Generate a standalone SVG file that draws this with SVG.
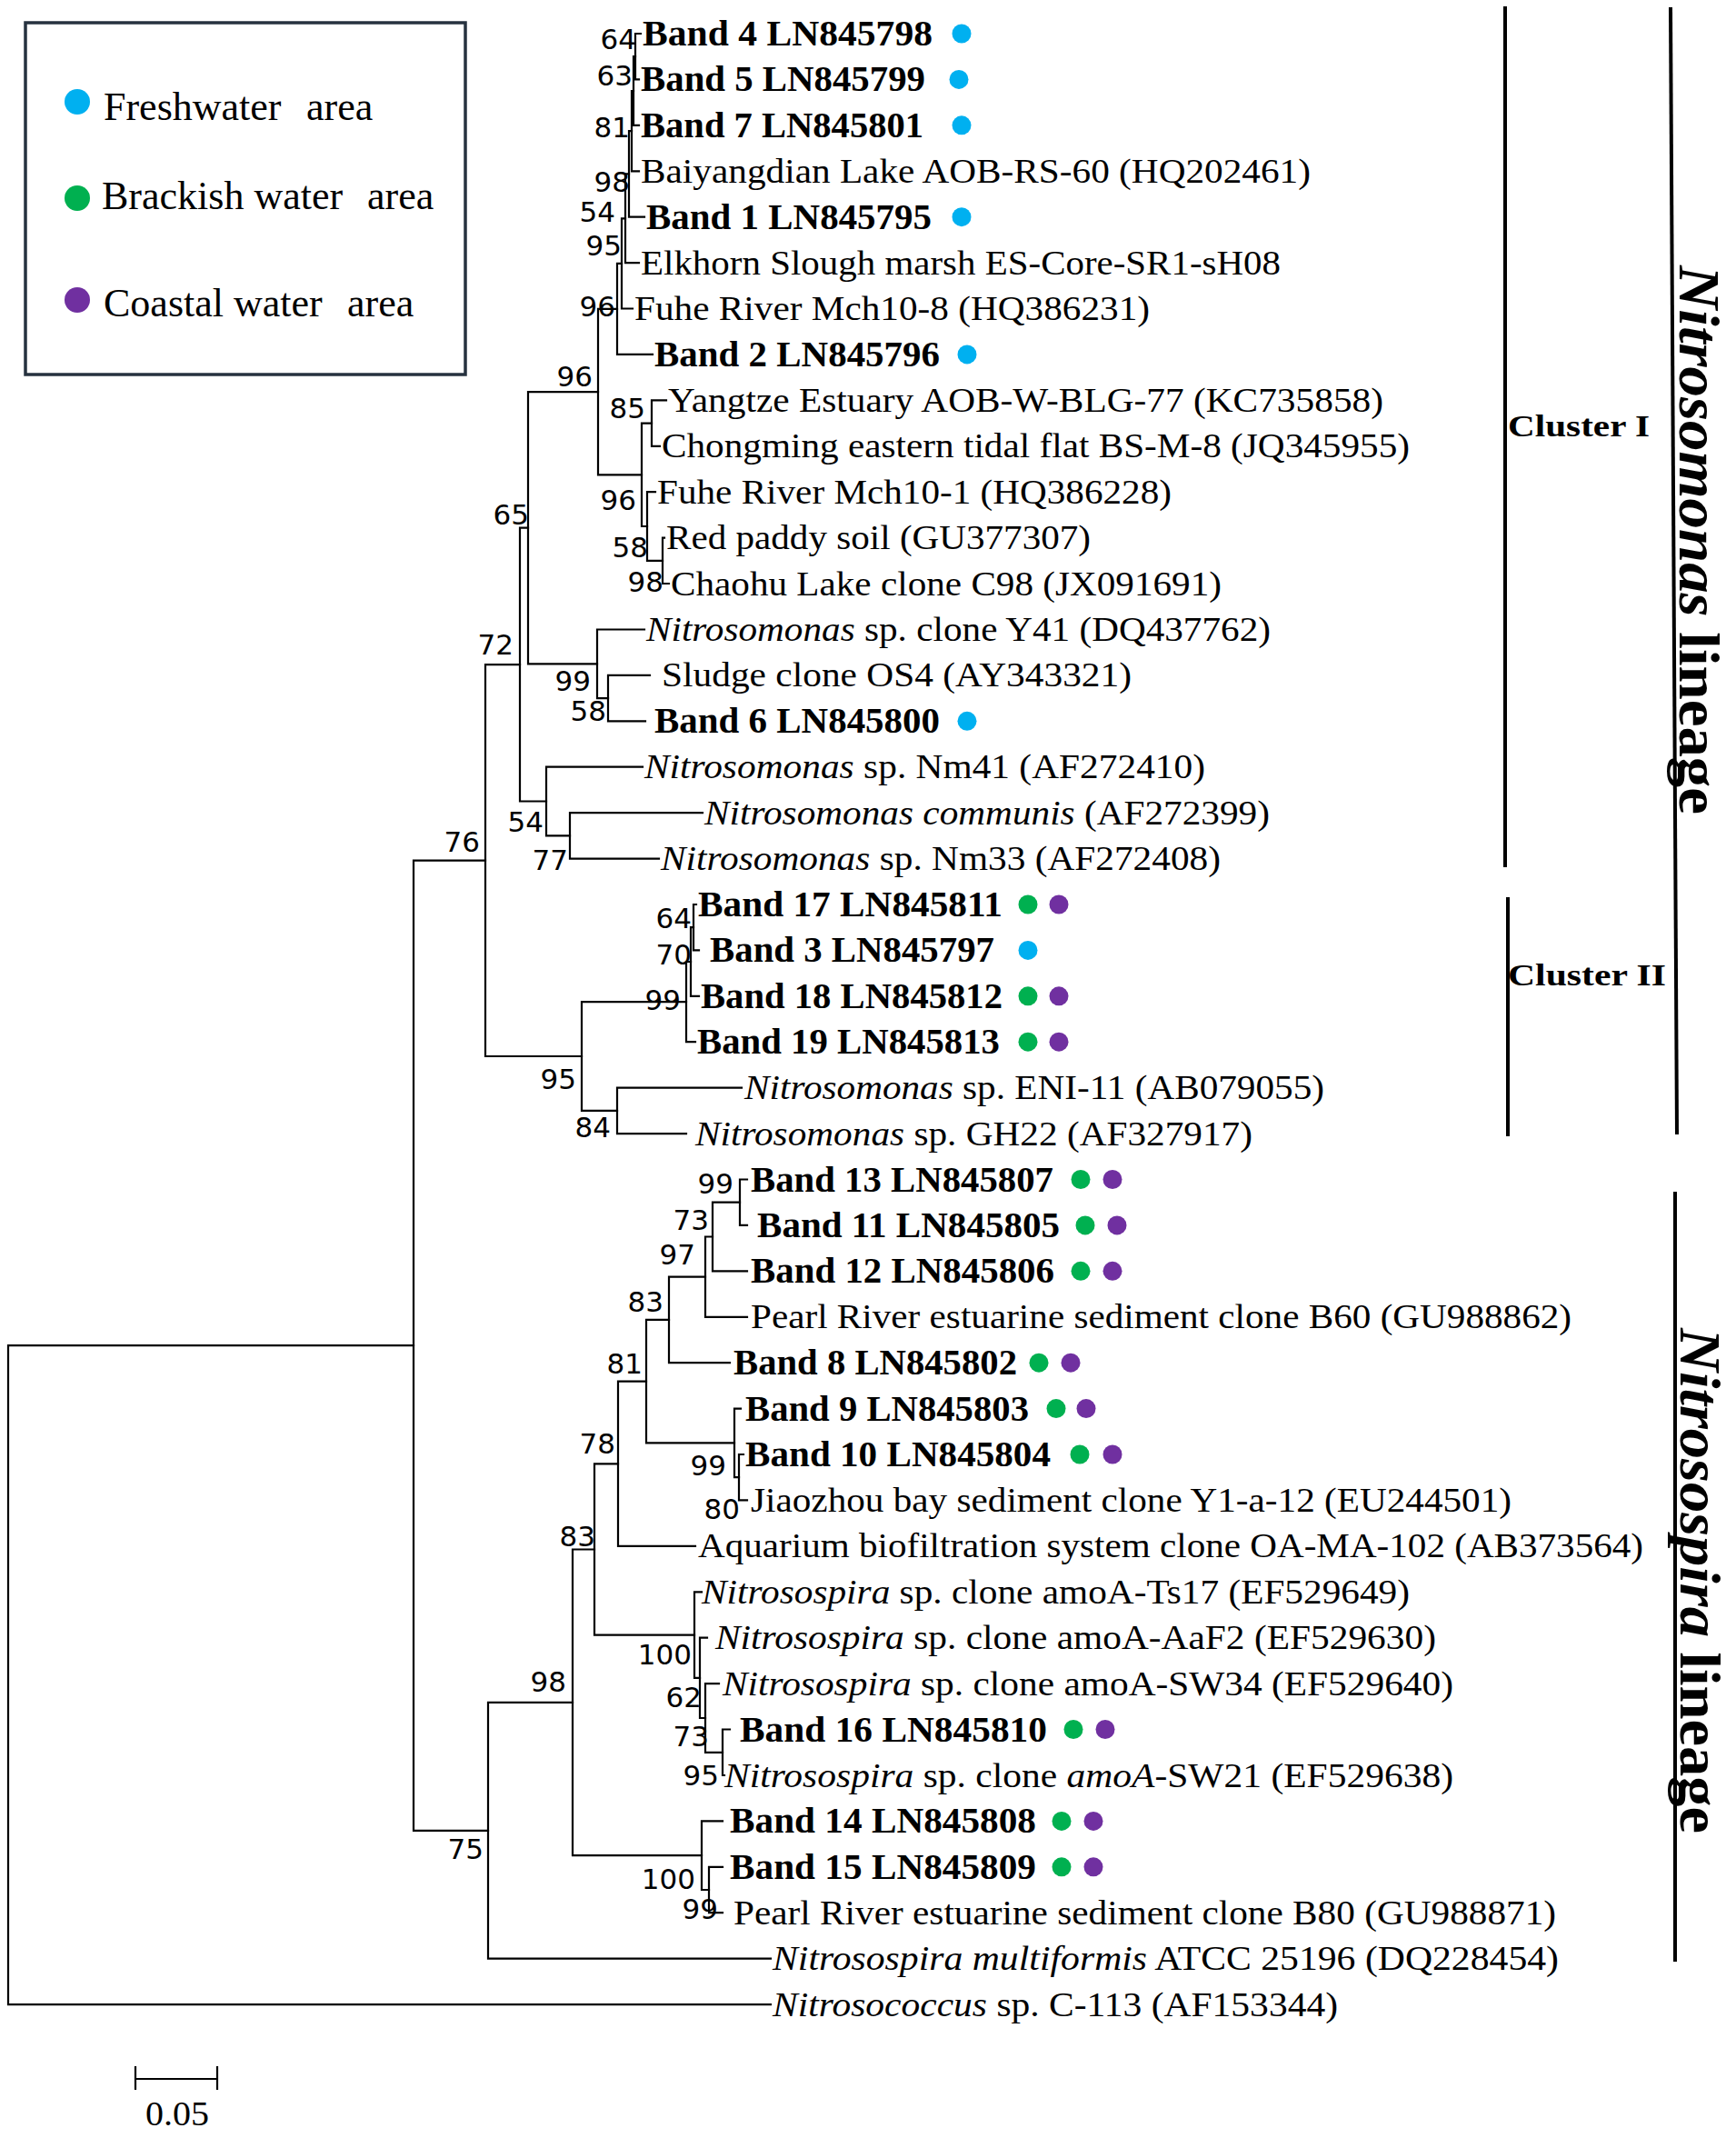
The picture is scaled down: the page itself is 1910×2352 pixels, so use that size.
<svg xmlns="http://www.w3.org/2000/svg" width="1910" height="2352" viewBox="0 0 1910 2352">
<style>
.br{fill:none;stroke:#000;stroke-width:2.2;stroke-linecap:square}
.cl{fill:none;stroke:#000;stroke-width:4}
.t{font-family:"Liberation Serif","Times New Roman",serif;font-size:37px;fill:#000}
.b{font-weight:bold;font-size:39px}
.i{font-style:italic}
.bs{font-family:"DejaVu Sans",sans-serif;font-size:31px;text-anchor:end;fill:#000}
.lg{font-family:"Liberation Serif","Times New Roman",serif;font-size:44px;fill:#000}
.big{font-family:"Liberation Serif","Times New Roman",serif;font-size:64px;font-weight:bold;fill:#000}
.cls{font-family:"Liberation Serif","Times New Roman",serif;font-size:34px;font-weight:bold;fill:#000}
.fw{fill:#00B0F0}.bw{fill:#00B050}.cw{fill:#7030A0}
</style>
<rect width="1910" height="2352" fill="#fff"/>
<g id="legend">
<rect x="28" y="25" width="484" height="387" fill="none" stroke="#26323f" stroke-width="3.5"/>
<circle class="fw" cx="85" cy="112" r="14"/>
<circle class="bw" cx="85" cy="218" r="14"/>
<circle class="cw" cx="85" cy="330" r="14"/>
<text class="lg" x="114" y="132">Freshwater<tspan x="337">area</tspan></text>
<text class="lg" x="112" y="230">Brackish water<tspan x="404">area</tspan></text>
<text class="lg" x="114" y="348">Coastal water<tspan x="382">area</tspan></text>
</g>
<g id="connectors">
<path class="br" d="M455 1480.2H9V2205.1H848"/>
<path class="br" d="M534 946.6H455V2013.8H537"/>
<path class="br" d="M572 731.1H534V1162H640"/>
<path class="br" d="M581 580.7H572V881.5H601"/>
<path class="br" d="M658 431.1H581V730.3H657"/>
<path class="br" d="M679 339.9H658V522.3H706"/>
<path class="br" d="M684 289.9H679V389.9H718"/>
<path class="br" d="M688 240.3H684V339.5H696"/>
<path class="br" d="M692 191.4H688V289.1H703"/>
<path class="br" d="M695 144.2H692V238.7H709"/>
<path class="br" d="M697 100H695V188.3H703"/>
<path class="br" d="M699 62.2H697V137.8H703"/>
<path class="br" d="M705 37H699V87.4H703"/>
<path class="br" d="M717 465.6H706V579H712"/>
<path class="br" d="M733 440.4H717V490.8H726"/>
<path class="br" d="M721 541.2H712V616.8H729"/>
<path class="br" d="M731 591.6H729V642H736"/>
<path class="br" d="M709 692.5H657V768.1H669"/>
<path class="br" d="M715 742.9H669V793.3H710"/>
<path class="br" d="M707 843.7H601V919.4H627"/>
<path class="br" d="M773 894.1H627V944.6H725"/>
<path class="br" d="M755 1102.1H640V1221.9H679"/>
<path class="br" d="M760 1058H755V1146.2H765"/>
<path class="br" d="M763 1020.2H760V1095.8H769"/>
<path class="br" d="M766 995H763V1045.4H769"/>
<path class="br" d="M816 1196.7H679V1247.1H755"/>
<path class="br" d="M630 1872.9H537V2154.6H848"/>
<path class="br" d="M654 1704.5H630V2041.2H772"/>
<path class="br" d="M680 1610.3H654V1798.6H764"/>
<path class="br" d="M711 1519.7H680V1700.9H765"/>
<path class="br" d="M736 1451.9H711V1587.4H808"/>
<path class="br" d="M776 1404.6H736V1499.2H803"/>
<path class="br" d="M784 1360.5H776V1448.8H822"/>
<path class="br" d="M814 1322.7H784V1398.3H822"/>
<path class="br" d="M822 1297.5H814V1347.9H822"/>
<path class="br" d="M815 1549.6H808V1625.2H813"/>
<path class="br" d="M818 1600H813V1650.4H822"/>
<path class="br" d="M772 1751.3H764V1845.8H770"/>
<path class="br" d="M778 1801.7H770V1890H776"/>
<path class="br" d="M791 1852.1H776V1927.8H795"/>
<path class="br" d="M803 1902.5H795V1953H797"/>
<path class="br" d="M795 2003.4H772V2079H780"/>
<path class="br" d="M795 2053.8H780V2104.2H795"/>
</g>
<g id="bootstrap">
<text class="bs" x="528" y="937">76</text>
<text class="bs" x="532" y="2045">75</text>
<text class="bs" x="565" y="720">72</text>
<text class="bs" x="582" y="577">65</text>
<text class="bs" x="652" y="425">96</text>
<text class="bs" x="677" y="348">96</text>
<text class="bs" x="684" y="281">95</text>
<text class="bs" x="677" y="244">54</text>
<text class="bs" x="693" y="211">98</text>
<text class="bs" x="693" y="151">81</text>
<text class="bs" x="696" y="94">63</text>
<text class="bs" x="700" y="54">64</text>
<text class="bs" x="710" y="460">85</text>
<text class="bs" x="700" y="561">96</text>
<text class="bs" x="713" y="613">58</text>
<text class="bs" x="730" y="651">98</text>
<text class="bs" x="650" y="760">99</text>
<text class="bs" x="667" y="793">58</text>
<text class="bs" x="598" y="915">54</text>
<text class="bs" x="625" y="957">77</text>
<text class="bs" x="634" y="1198">95</text>
<text class="bs" x="749" y="1111">99</text>
<text class="bs" x="761" y="1021">64</text>
<text class="bs" x="761" y="1061">70</text>
<text class="bs" x="672" y="1251">84</text>
<text class="bs" x="807" y="1313">99</text>
<text class="bs" x="780" y="1353">73</text>
<text class="bs" x="765" y="1391">97</text>
<text class="bs" x="730" y="1443">83</text>
<text class="bs" x="707" y="1511">81</text>
<text class="bs" x="799" y="1623">99</text>
<text class="bs" x="814" y="1671">80</text>
<text class="bs" x="677" y="1599">78</text>
<text class="bs" x="655" y="1701">83</text>
<text class="bs" x="623" y="1861">98</text>
<text class="bs" x="761" y="1831">100</text>
<text class="bs" x="772" y="1878">62</text>
<text class="bs" x="780" y="1921">73</text>
<text class="bs" x="791" y="1964">95</text>
<text class="bs" x="765" y="2078">100</text>
<text class="bs" x="790" y="2111">99</text>
</g>
<g id="leaf-band4"><text class="t b" x="707" y="50" textLength="319" lengthAdjust="spacingAndGlyphs">Band 4 LN845798</text><circle class="fw" cx="1058" cy="37" r="10.5"/></g>
<g id="leaf-band5"><text class="t b" x="705" y="100.4" textLength="313" lengthAdjust="spacingAndGlyphs">Band 5 LN845799</text><circle class="fw" cx="1055" cy="87.4" r="10.5"/></g>
<g id="leaf-band7"><text class="t b" x="705" y="150.8" textLength="311" lengthAdjust="spacingAndGlyphs">Band 7 LN845801</text><circle class="fw" cx="1058" cy="137.8" r="10.5"/></g>
<g id="leaf-baiyangdian"><text class="t" x="705" y="200.8" textLength="737" lengthAdjust="spacingAndGlyphs">Baiyangdian Lake AOB-RS-60 (HQ202461)</text></g>
<g id="leaf-band1"><text class="t b" x="711" y="251.7" textLength="314" lengthAdjust="spacingAndGlyphs">Band 1 LN845795</text><circle class="fw" cx="1058" cy="238.7" r="10.5"/></g>
<g id="leaf-elkhorn"><text class="t" x="705" y="301.6" textLength="704" lengthAdjust="spacingAndGlyphs">Elkhorn Slough marsh ES-Core-SR1-sH08</text></g>
<g id="leaf-fuhe108"><text class="t" x="698" y="352" textLength="567" lengthAdjust="spacingAndGlyphs">Fuhe River Mch10-8 (HQ386231)</text></g>
<g id="leaf-band2"><text class="t b" x="720" y="402.9" textLength="314" lengthAdjust="spacingAndGlyphs">Band 2 LN845796</text><circle class="fw" cx="1064" cy="389.9" r="10.5"/></g>
<g id="leaf-yangtze"><text class="t" x="735" y="452.9" textLength="787" lengthAdjust="spacingAndGlyphs">Yangtze Estuary AOB-W-BLG-77 (KC735858)</text></g>
<g id="leaf-chongming"><text class="t" x="728" y="503.3" textLength="823" lengthAdjust="spacingAndGlyphs">Chongming eastern tidal flat BS-M-8 (JQ345955)</text></g>
<g id="leaf-fuhe101"><text class="t" x="723" y="553.7" textLength="566" lengthAdjust="spacingAndGlyphs">Fuhe River Mch10-1 (HQ386228)</text></g>
<g id="leaf-redpaddy"><text class="t" x="733" y="604.1" textLength="467" lengthAdjust="spacingAndGlyphs">Red paddy soil (GU377307)</text></g>
<g id="leaf-chaohu"><text class="t" x="738" y="654.5" textLength="606" lengthAdjust="spacingAndGlyphs">Chaohu Lake clone C98 (JX091691)</text></g>
<g id="leaf-y41"><text class="t" x="711" y="705" textLength="687" lengthAdjust="spacingAndGlyphs"><tspan class="i">Nitrosomonas</tspan> sp. clone Y41 (DQ437762)</text></g>
<g id="leaf-sludge"><text class="t" x="728" y="755.4" textLength="517" lengthAdjust="spacingAndGlyphs">Sludge clone OS4 (AY343321)</text></g>
<g id="leaf-band6"><text class="t b" x="720" y="806.3" textLength="314" lengthAdjust="spacingAndGlyphs">Band 6 LN845800</text><circle class="fw" cx="1064" cy="793.3" r="10.5"/></g>
<g id="leaf-nm41"><text class="t" x="709" y="856.2" textLength="617" lengthAdjust="spacingAndGlyphs"><tspan class="i">Nitrosomonas</tspan> sp. Nm41 (AF272410)</text></g>
<g id="leaf-communis"><text class="t" x="775" y="906.6" textLength="622" lengthAdjust="spacingAndGlyphs"><tspan class="i">Nitrosomonas communis</tspan> (AF272399)</text></g>
<g id="leaf-nm33"><text class="t" x="727" y="957.1" textLength="616" lengthAdjust="spacingAndGlyphs"><tspan class="i">Nitrosomonas</tspan> sp. Nm33 (AF272408)</text></g>
<g id="leaf-band17"><text class="t b" x="768" y="1008" textLength="335" lengthAdjust="spacingAndGlyphs">Band 17 LN845811</text><circle class="bw" cx="1131" cy="995" r="10.5"/><circle class="cw" cx="1165" cy="995" r="10.5"/></g>
<g id="leaf-band3"><text class="t b" x="781" y="1058.4" textLength="313" lengthAdjust="spacingAndGlyphs">Band 3 LN845797</text><circle class="fw" cx="1131" cy="1045.4" r="10.5"/></g>
<g id="leaf-band18"><text class="t b" x="771" y="1108.8" textLength="332" lengthAdjust="spacingAndGlyphs">Band 18 LN845812</text><circle class="bw" cx="1131" cy="1095.8" r="10.5"/><circle class="cw" cx="1165" cy="1095.8" r="10.5"/></g>
<g id="leaf-band19"><text class="t b" x="767" y="1159.2" textLength="333" lengthAdjust="spacingAndGlyphs">Band 19 LN845813</text><circle class="bw" cx="1131" cy="1146.2" r="10.5"/><circle class="cw" cx="1165" cy="1146.2" r="10.5"/></g>
<g id="leaf-eni11"><text class="t" x="819" y="1209.2" textLength="638" lengthAdjust="spacingAndGlyphs"><tspan class="i">Nitrosomonas</tspan> sp. ENI-11 (AB079055)</text></g>
<g id="leaf-gh22"><text class="t" x="765" y="1259.6" textLength="613" lengthAdjust="spacingAndGlyphs"><tspan class="i">Nitrosomonas</tspan> sp. GH22 (AF327917)</text></g>
<g id="leaf-band13"><text class="t b" x="826" y="1310.5" textLength="333" lengthAdjust="spacingAndGlyphs">Band 13 LN845807</text><circle class="bw" cx="1189" cy="1297.5" r="10.5"/><circle class="cw" cx="1224" cy="1297.5" r="10.5"/></g>
<g id="leaf-band11"><text class="t b" x="833" y="1360.9" textLength="333" lengthAdjust="spacingAndGlyphs">Band 11 LN845805</text><circle class="bw" cx="1194" cy="1347.9" r="10.5"/><circle class="cw" cx="1229" cy="1347.9" r="10.5"/></g>
<g id="leaf-band12"><text class="t b" x="826" y="1411.3" textLength="334" lengthAdjust="spacingAndGlyphs">Band 12 LN845806</text><circle class="bw" cx="1189" cy="1398.3" r="10.5"/><circle class="cw" cx="1224" cy="1398.3" r="10.5"/></g>
<g id="leaf-b60"><text class="t" x="826" y="1461.3" textLength="903" lengthAdjust="spacingAndGlyphs">Pearl River estuarine sediment clone B60 (GU988862)</text></g>
<g id="leaf-band8"><text class="t b" x="807" y="1512.2" textLength="312" lengthAdjust="spacingAndGlyphs">Band 8 LN845802</text><circle class="bw" cx="1143" cy="1499.2" r="10.5"/><circle class="cw" cx="1178" cy="1499.2" r="10.5"/></g>
<g id="leaf-band9"><text class="t b" x="820" y="1562.6" textLength="312" lengthAdjust="spacingAndGlyphs">Band 9 LN845803</text><circle class="bw" cx="1162" cy="1549.6" r="10.5"/><circle class="cw" cx="1195" cy="1549.6" r="10.5"/></g>
<g id="leaf-band10"><text class="t b" x="820" y="1613" textLength="336" lengthAdjust="spacingAndGlyphs">Band 10 LN845804</text><circle class="bw" cx="1188" cy="1600" r="10.5"/><circle class="cw" cx="1224" cy="1600" r="10.5"/></g>
<g id="leaf-jiaozhou"><text class="t" x="826" y="1662.9" textLength="837" lengthAdjust="spacingAndGlyphs">Jiaozhou bay sediment clone Y1-a-12 (EU244501)</text></g>
<g id="leaf-aquarium"><text class="t" x="768" y="1713.4" textLength="1040" lengthAdjust="spacingAndGlyphs">Aquarium biofiltration system clone OA-MA-102 (AB373564)</text></g>
<g id="leaf-ts17"><text class="t" x="772" y="1763.8" textLength="779" lengthAdjust="spacingAndGlyphs"><tspan class="i">Nitrosospira</tspan> sp. clone amoA-Ts17 (EF529649)</text></g>
<g id="leaf-aaf2"><text class="t" x="787" y="1814.2" textLength="793" lengthAdjust="spacingAndGlyphs"><tspan class="i">Nitrosospira</tspan> sp. clone amoA-AaF2 (EF529630)</text></g>
<g id="leaf-sw34"><text class="t" x="795" y="1864.6" textLength="804" lengthAdjust="spacingAndGlyphs"><tspan class="i">Nitrosospira</tspan> sp. clone amoA-SW34 (EF529640)</text></g>
<g id="leaf-band16"><text class="t b" x="814" y="1915.5" textLength="338" lengthAdjust="spacingAndGlyphs">Band 16 LN845810</text><circle class="bw" cx="1181" cy="1902.5" r="10.5"/><circle class="cw" cx="1216" cy="1902.5" r="10.5"/></g>
<g id="leaf-sw21"><text class="t" x="797" y="1965.5" textLength="802" lengthAdjust="spacingAndGlyphs"><tspan class="i">Nitrosospira</tspan> sp. clone <tspan class="i">amoA</tspan>-SW21 (EF529638)</text></g>
<g id="leaf-band14"><text class="t b" x="803" y="2016.4" textLength="337" lengthAdjust="spacingAndGlyphs">Band 14 LN845808</text><circle class="bw" cx="1168" cy="2003.4" r="10.5"/><circle class="cw" cx="1203" cy="2003.4" r="10.5"/></g>
<g id="leaf-band15"><text class="t b" x="803" y="2066.8" textLength="337" lengthAdjust="spacingAndGlyphs">Band 15 LN845809</text><circle class="bw" cx="1168" cy="2053.8" r="10.5"/><circle class="cw" cx="1203" cy="2053.8" r="10.5"/></g>
<g id="leaf-b80"><text class="t" x="807" y="2116.7" textLength="905" lengthAdjust="spacingAndGlyphs">Pearl River estuarine sediment clone B80 (GU988871)</text></g>
<g id="leaf-multiformis"><text class="t" x="850" y="2167.1" textLength="865" lengthAdjust="spacingAndGlyphs"><tspan class="i">Nitrosospira multiformis</tspan> ATCC 25196 (DQ228454)</text></g>
<g id="leaf-nitrosococcus"><text class="t" x="850" y="2217.6" textLength="622" lengthAdjust="spacingAndGlyphs"><tspan class="i">Nitrosococcus</tspan> sp. C-113 (AF153344)</text></g>
<g id="clusters">
<path class="cl" d="M1656 7V954M1659 987V1250"/>
<path class="cl" d="M1838 8L1845 1248"/>
<path class="cl" d="M1843 1311V2158"/>
<text class="cls" x="1659" y="480" textLength="156" lengthAdjust="spacingAndGlyphs">Cluster I</text>
<text class="cls" x="1659" y="1084" textLength="174" lengthAdjust="spacingAndGlyphs">Cluster II</text>
<text class="big" transform="translate(1848 292) rotate(90)" textLength="604" lengthAdjust="spacingAndGlyphs"><tspan class="i">Nitrosomonas</tspan> lineage</text>
<text class="big" transform="translate(1849 1461) rotate(90)" textLength="556" lengthAdjust="spacingAndGlyphs"><tspan class="i">Nitrosospira</tspan> lineage</text>
</g>
<g id="scalebar">
<path class="br" d="M149 2274V2298M149 2287H239M239 2274V2298"/>
<text class="t" x="160" y="2338" font-size="38" textLength="70" lengthAdjust="spacingAndGlyphs">0.05</text>
</g>
</svg>
